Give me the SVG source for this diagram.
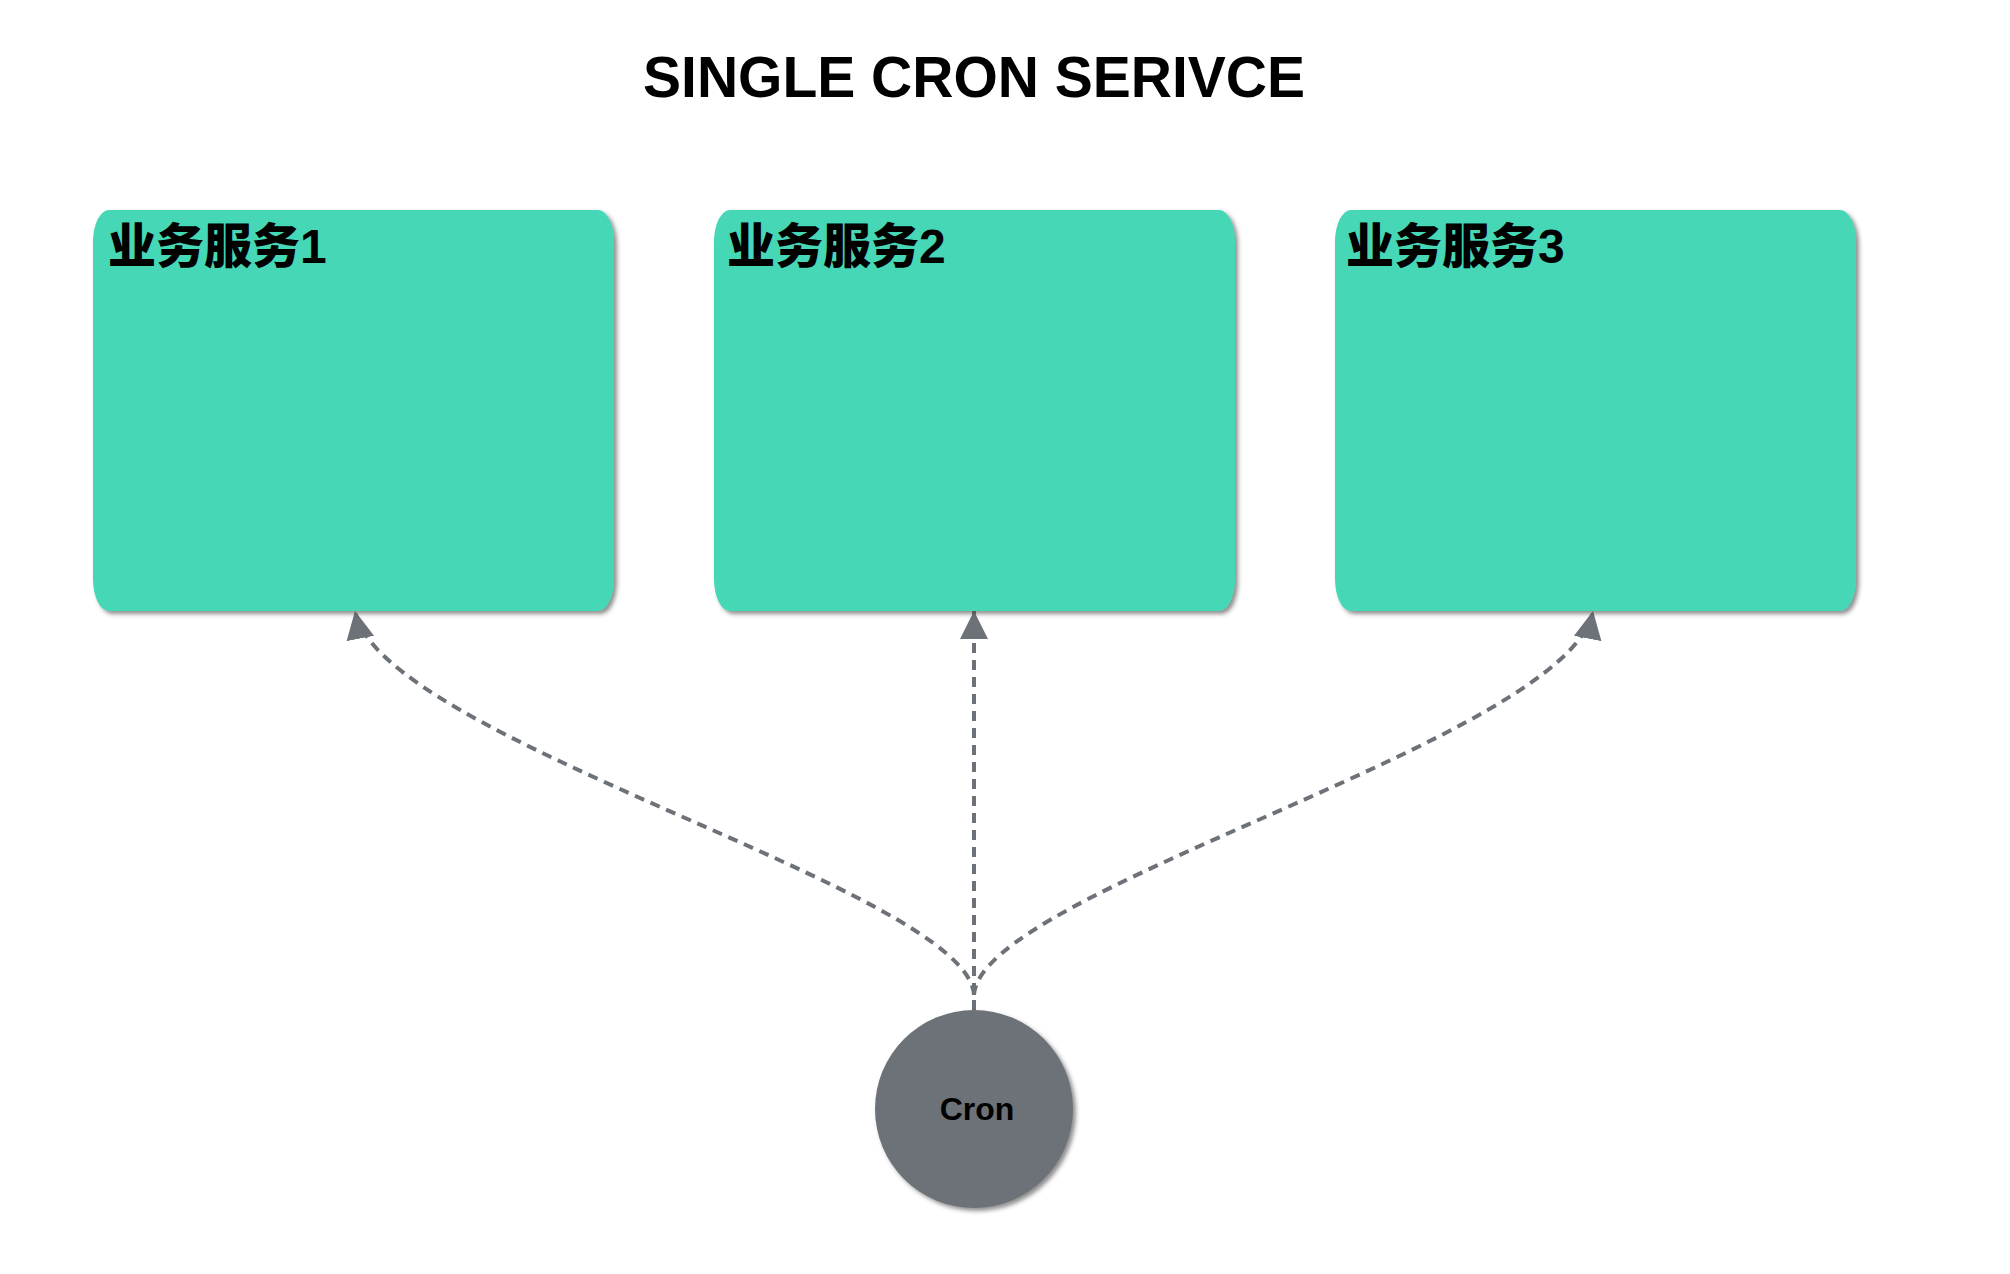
<svg xmlns="http://www.w3.org/2000/svg" width="2010" height="1274" viewBox="0 0 2010 1274">
  <style>
    .box { fill: #44D7B6; }
    .label { font-family: "Liberation Sans", "Noto Sans CJK SC", sans-serif; font-weight: 900; font-size: 48px; fill: #000; }
    .title { font-family: "Liberation Sans", Arial, sans-serif; font-weight: bold; font-size: 57px; fill: #000; }
    .cron { font-family: "Liberation Sans", Arial, sans-serif; font-weight: bold; font-size: 32px; fill: #000; }
    .conn { fill: none; stroke: #6D7278; stroke-width: 4; stroke-dasharray: 10 7; }
  </style>
  <defs>
    <filter id="shadow" x="-10%" y="-10%" width="125%" height="125%">
      <feDropShadow dx="3" dy="3" stdDeviation="2" flood-color="#444" flood-opacity="0.6"/>
    </filter>
    <marker id="arrow" markerUnits="userSpaceOnUse" markerWidth="30" markerHeight="30" refX="28" refY="14" orient="auto">
      <path d="M0,0 L28,14 L0,28 Z" fill="#6D7278"/>
    </marker>
  </defs>
  <rect width="2010" height="1274" fill="#fff"/>
  <text class="title" x="974" y="97" text-anchor="middle">SINGLE CRON SERIVCE</text>

  <g id="connectors">
    <path class="conn" d="M974,995 C968,890 380,740 355,611" marker-end="url(#arrow)"/>
    <path class="conn" d="M974,1010 L974,611" marker-end="url(#arrow)"/>
    <path class="conn" d="M974,995 C980,890 1568,740 1593,611" marker-end="url(#arrow)"/>
  </g>

  <g id="service1">
    <rect class="box" x="93" y="210" width="521" height="401" rx="16" ry="32" filter="url(#shadow)"/>
    <text class="label" x="108" y="263">业务服务1</text>
  </g>
  <g id="service2">
    <rect class="box" x="714" y="210" width="521" height="401" rx="16" ry="32" filter="url(#shadow)"/>
    <text class="label" x="727" y="263">业务服务2</text>
  </g>
  <g id="service3">
    <rect class="box" x="1335" y="210" width="521" height="401" rx="16" ry="32" filter="url(#shadow)"/>
    <text class="label" x="1346" y="263">业务服务3</text>
  </g>
  <g id="cron">
    <circle cx="974" cy="1109" r="99" fill="#6D7278" filter="url(#shadow)"/>
    <text class="cron" x="977" y="1120" text-anchor="middle">Cron</text>
  </g>
</svg>
